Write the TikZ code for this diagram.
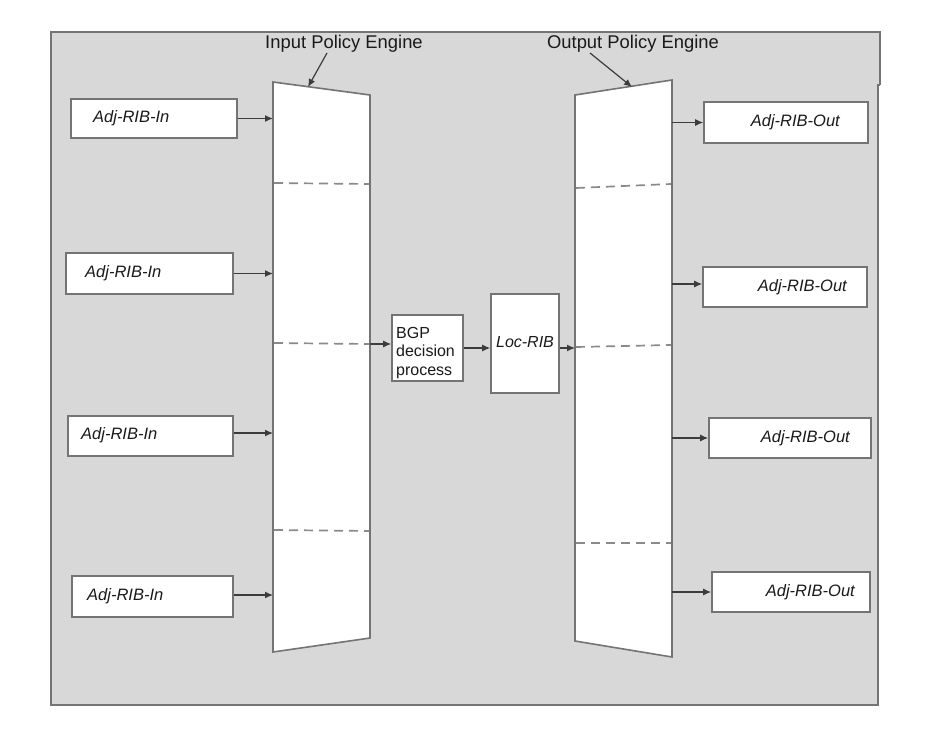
\documentclass[tikz,border=0pt]{standalone}
\usepackage{fontspec}
\setmainfont{Liberation Sans}
\usetikzlibrary{arrows.meta}
\definecolor{bggray}{HTML}{D8D8D8}
\definecolor{edgegray}{HTML}{747474}
\definecolor{dashgray}{HTML}{8A8A8A}
\definecolor{txt}{HTML}{1A1A1A}
\tikzset{
  ribbox/.style={draw=edgegray, line width=1.6pt, fill=white, inner sep=0pt},
  ribtext/.style={inner sep=0pt, text=txt, font=\fontsize{16.5}{19}\selectfont\itshape},
  titletext/.style={inner sep=0pt, text=txt, font=\fontsize{18.4}{21}\selectfont},
  engine/.style={draw=edgegray, line width=1.6pt, fill=white, line join=miter},
  divider/.style={draw=dashgray, line width=1.7pt, dash pattern=on 9pt off 6pt},
  arr/.style={draw=txt!85, line width=1.2pt, -{Latex[length=8pt,width=7pt]}},
}
\begin{document}
\begin{tikzpicture}[x=1pt,y=-1pt]
\useasboundingbox (0,0) rectangle (928,750);
% frame
\fill[bggray] (51,32) rectangle (879,705);
\draw[edgegray, line width=1.6pt] (880,85) -- (880,32) -- (51,32) -- (51,705) -- (878,705) -- (878,85) -- (880,85);

% input policy engine
\coordinate (iTL) at (273,82);
\coordinate (iTR) at (370,95);
\coordinate (iBR) at (370,638);
\coordinate (iBL) at (273,652);
\draw[engine] (iTL) -- (iTR) -- (iBR) -- (iBL) -- cycle;
\draw[divider] (274,183) -- (369,184);
\draw[divider] (274,343) -- (369,344);
\draw[divider] (274,530) -- (369,531);

% output policy engine
\coordinate (oTL) at (575,95);
\coordinate (oTR) at (672,80);
\coordinate (oBR) at (672,657);
\coordinate (oBL) at (575,641);
\draw[engine] (oTL) -- (oTR) -- (oBR) -- (oBL) -- cycle;
\draw[divider] (576,188) -- (671,184);
\draw[divider] (576,347) -- (671,345);
\draw[divider] (576,543) -- (671,543);

% titles
\node[titletext] (ipe) at (344,44) {Input Policy Engine};
\node[titletext] (ope) at (633,44) {Output Policy Engine};
\coordinate (ipetip) at (308,87);
\coordinate (opetip) at (632,87);
\draw[arr] (327,53) -- (ipetip);
\draw[arr] (590,53) -- (opetip);

% Adj-RIB-In boxes
\node[ribbox, minimum width=166pt, minimum height=39pt] (in1) at (154,118.5) {};
\node[ribbox, minimum width=167pt, minimum height=41pt] (in2) at (149.5,273.5) {};
\node[ribbox, minimum width=165pt, minimum height=40pt] (in3) at (150.5,436) {};
\node[ribbox, minimum width=161pt, minimum height=41pt] (in4) at (152.5,596.5) {};
\node[ribtext, anchor=west] (tin1) at (93,118.5) {Adj-RIB-In};
\node[ribtext, anchor=west] (tin2) at (85,273.5) {Adj-RIB-In};
\node[ribtext, anchor=west] (tin3) at (81,435) {Adj-RIB-In};
\node[ribtext, anchor=west] (tin4) at (87,596.5) {Adj-RIB-In};
\draw[arr] (in1.east) -- (in1.east -| iTL);
\draw[arr] (in2.east) -- (in2.east -| iTL);
\draw[arr] (in3.east |- 0,433) -- (273,433);
\draw[arr] (in4.east |- 0,595) -- (273,595);

% Adj-RIB-Out boxes
\node[ribbox, minimum width=164pt, minimum height=41pt] (out1) at (786,122.5) {};
\node[ribbox, minimum width=164pt, minimum height=40pt] (out2) at (785,287) {};
\node[ribbox, minimum width=162pt, minimum height=40pt] (out3) at (790,438) {};
\node[ribbox, minimum width=158pt, minimum height=40pt] (out4) at (791,592) {};
\node[ribtext, anchor=east] (tout1) at (840,122.5) {Adj-RIB-Out};
\node[ribtext, anchor=east] (tout2) at (847,287) {Adj-RIB-Out};
\node[ribtext, anchor=east] (tout3) at (850,438) {Adj-RIB-Out};
\node[ribtext, anchor=east] (tout4) at (855,592) {Adj-RIB-Out};
\draw[arr] (out1.west -| oTR) -- (out1.west);
\draw[arr] (672,284) -- (out2.west |- 0,284);
\draw[arr] (out3.west -| oTR) -- (out3.west);
\draw[arr] (out4.west -| oTR) -- (out4.west);

% BGP decision process and Loc-RIB
\node[ribbox, minimum width=71pt, minimum height=66pt] (bgp) at (427.5,348) {};
\node[inner sep=0pt, text=txt, anchor=west, align=left,
      font=\fontsize{16}{18.5}\selectfont] (tbgp) at (396,353) {BGP\\decision\\process};
\node[ribbox, minimum width=68pt, minimum height=99pt] (loc) at (525,343.5) {};
\node[ribtext, font=\fontsize{16}{19}\selectfont\itshape] (tloc) at (525,342) {Loc-RIB};
\draw[arr] (370,344) -- (bgp.west |- 0,344);
\draw[arr] (bgp.east) -- (loc.west |- bgp.east);
\draw[arr] (loc.east |- bgp.east) -- (575,348);
\end{tikzpicture}
\end{document}
